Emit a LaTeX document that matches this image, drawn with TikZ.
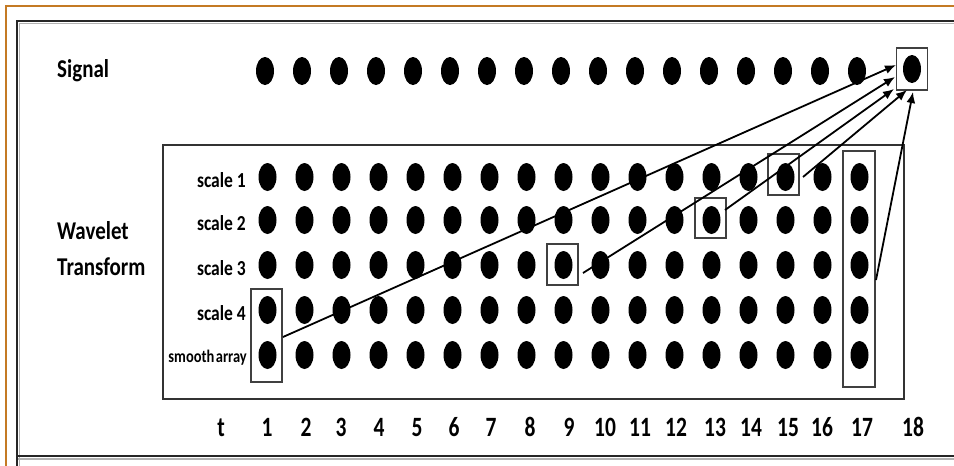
\documentclass[tikz,border=0pt]{standalone}
\usepackage{fontspec}
\setmainfont{Carlito}
\usetikzlibrary{arrows.meta,shapes.geometric}
\definecolor{frameorange}{RGB}{196,122,36}
\begin{document}
\begin{tikzpicture}[x=1pt,y=-1pt,
  dot/.style={ellipse,fill=black,draw=none,inner sep=0pt,minimum width=18pt,minimum height=28pt},
  selbox/.style={draw=black!75,line width=1.2pt,rectangle,inner sep=0pt,minimum width=31pt},
  conn/.style={line width=1.8pt,-{Latex[length=11pt,width=9pt]}},
  biglabel/.style={font=\fontsize{21}{24}\selectfont\bfseries,anchor=base west,inner sep=0pt},
  scalelabel/.style={font=\fontsize{17.5}{20}\selectfont\bfseries,anchor=base east,inner sep=0pt},
  smalllabel/.style={font=\fontsize{14.5}{17}\selectfont\bfseries,anchor=base east,inner sep=0pt},
  numlabel/.style={font=\fontsize{21.5}{24}\selectfont\bfseries,anchor=base,inner sep=0pt}]
\useasboundingbox (0,0) rectangle (954,466);
\fill[white] (0,0) rectangle (954,466);
% outer orange frame
\draw[frameorange,line width=2.2pt] (6,470) -- (6,6) -- (960,6);
% inner frame with shadow
\draw[black!30,line width=1.4pt] (19.5,470) -- (19.5,23.5) -- (960,23.5);
\draw[black!30,line width=1.6pt] (17,459) -- (960,459);
\draw[black!85,line width=1.5pt] (17,470) -- (17,21) -- (960,21);
\draw[black!85,line width=1.6pt] (17,456) -- (960,456);
% wavelet box
\node[draw=black!80,line width=1.3pt,rectangle,inner sep=0pt,minimum width=741pt,minimum height=254pt] (wt) at (533.5,272) {};
% labels
\node[biglabel] (sig) at (57,77) {\scalebox{1}[1.22]{Signal}};
\node[biglabel] (wav) at (57,239) {\scalebox{1}[1.22]{Wavelet}};
\node[biglabel] (tra) at (57,275) {\scalebox{1}[1.22]{Transform}};
\node[scalelabel] (l1) at (246,187) {\scalebox{1}[1.22]{scale 1}};
\node[scalelabel] (l2) at (246,230) {\scalebox{1}[1.22]{scale 2}};
\node[scalelabel] (l3) at (246,275) {\scalebox{1}[1.22]{scale 3}};
\node[scalelabel] (l4) at (246,320) {\scalebox{1}[1.22]{scale 4}};
\node[smalllabel] (l5) at (247,362) {\scalebox{1}[1.22]{smooth\hspace{0.1em}array}};
% signal dots
\foreach \i in {1,...,17} \node[dot] (s\i) at ({265+37*(\i-1)},71) {};
\node[dot] (s18) at (912,69) {};
% grid dots
\foreach \r/\y in {1/177,2/220,3/265,4/310,5/355}
  \foreach \c in {1,...,17}
    \node[dot] (g\r-\c) at ({267.5+37*(\c-1)},\y) {};
% time labels
\node[numlabel] (tt) at (221,436) {\scalebox{1}[1.3]{t}};
\foreach \n/\x in {1/267,2/306,3/341,4/379,5/417,6/454,7/491,8/530,9/569,10/605,11/640,12/676,13/715,14/751,15/788,16/822,17/862,18/913}
  \node[numlabel] (n\n) at (\x,436) {\scalebox{1}[1.3]{\n}};
% selection boxes
\node[selbox,minimum height=42pt] (bS) at (912,69) {};
\node[selbox,minimum height=93pt] (b1) at (266.5,335.5) {};
\node[selbox,minimum height=41pt] (b9) at (562.5,264.5) {};
\node[selbox,minimum height=40pt] (b13) at (710.5,218) {};
\node[selbox,minimum height=41pt] (b15) at (783.5,174.5) {};
\node[selbox,minimum width=32pt,minimum height=236pt] (b17) at (859,269) {};
% arrow start/end points
\coordinate (st1) at (283,337);
\coordinate (st9) at (583,273);
\coordinate (st13) at (725,210);
\coordinate (st15) at (803,177);
\coordinate (st17) at (876,280);
\coordinate (e1) at (896,65);
\coordinate (e2) at (895,77);
\coordinate (e3) at (894,89);
\coordinate (e4) at (907,90);
\coordinate (e5) at (913,92);
\draw[conn] (st1) -- (e1);
\draw[conn] (st9) -- (e2);
\draw[conn] (st13) -- (e3);
\draw[conn] (st15) -- (e4);
\draw[conn] (st17) -- (e5);
\end{tikzpicture}
\end{document}
